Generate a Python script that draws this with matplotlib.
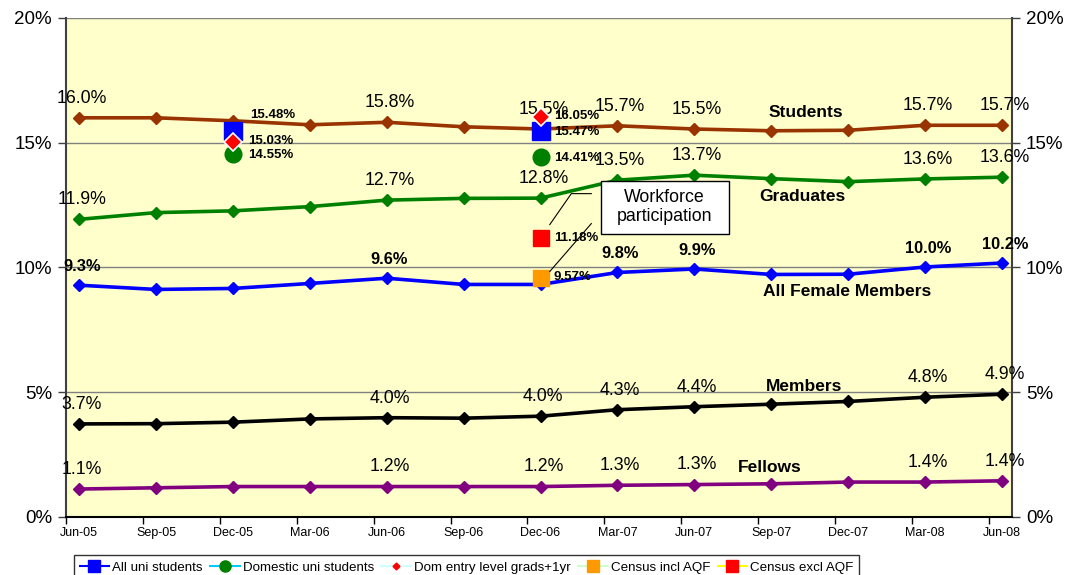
import matplotlib
matplotlib.use("Agg")
import matplotlib.pyplot as plt
from matplotlib.lines import Line2D
from matplotlib.patches import Rectangle
import numpy as np

plt.rcParams['font.family'] = ['Liberation Sans', 'DejaVu Sans']

dates = ["Jun-05", "Sep-05", "Dec-05", "Mar-06", "Jun-06", "Sep-06", "Dec-06",
         "Mar-07", "Jun-07", "Sep-07", "Dec-07", "Mar-08", "Jun-08"]

students = [16.0, 16.0, 15.88, 15.72, 15.82, 15.64, 15.55, 15.68, 15.55, 15.48, 15.5, 15.7, 15.7]
graduates = [11.93, 12.2, 12.27, 12.44, 12.7, 12.77, 12.78, 13.5, 13.7, 13.56, 13.44, 13.55, 13.62]
female = [9.29, 9.12, 9.16, 9.36, 9.57, 9.32, 9.32, 9.8, 9.94, 9.72, 9.73, 10.02, 10.18]
members = [3.73, 3.74, 3.8, 3.93, 3.98, 3.96, 4.04, 4.3, 4.42, 4.52, 4.63, 4.8, 4.92]
fellows = [1.12, 1.17, 1.22, 1.22, 1.22, 1.22, 1.22, 1.27, 1.3, 1.33, 1.4, 1.4, 1.45]

# indices of points carrying value labels
label_idx = [0, 4, 6, 7, 8, 11, 12]
female_label_idx = [0, 4, 7, 8, 11, 12]
students_labels = ["16.0%", "15.8%", "15.5%", "15.7%", "15.5%", "15.7%", "15.7%"]
graduates_labels = ["11.9%", "12.7%", "12.8%", "13.5%", "13.7%", "13.6%", "13.6%"]
female_labels = ["9.3%", "9.6%", "9.8%", "9.9%", "10.0%", "10.2%"]
members_labels = ["3.7%", "4.0%", "4.0%", "4.3%", "4.4%", "4.8%", "4.9%"]
fellows_labels = ["1.1%", "1.2%", "1.2%", "1.3%", "1.3%", "1.4%", "1.4%"]

# single-point comparison series (index into dates, value)
all_uni_idx = [2, 6]
all_uni = [15.48, 15.47]
domestic_idx = [2, 6]
domestic = [14.55, 14.41]
dom_entry_idx = [2, 6]
dom_entry = [15.03, 16.05]
census_incl_idx = [6]
census_incl = [9.57]
census_excl_idx = [6]
census_excl = [11.18]

fig = plt.figure(figsize=(10.68, 5.75), dpi=100)
ax = fig.add_axes([0.0618, 0.1009, 0.8858, 0.8678])
ax.set_facecolor('#FFFFCC')

x = np.arange(len(dates))
ax.set_xlim(-0.17, 12.13)
ax.set_ylim(0, 20)

for yv in [5, 10, 15, 20]:
    ax.axhline(yv, color='#808080', lw=1.0, zorder=1)

lw = 2.6
series = [
    (students, '#993300', students_labels, label_idx, 'normal', 12.8),
    (graduates, '#008000', graduates_labels, label_idx, 'normal', 12.8),
    (female, '#0000FF', female_labels, female_label_idx, 'bold', 11.8),
    (members, '#000000', members_labels, label_idx, 'normal', 12.8),
    (fellows, '#800080', fellows_labels, label_idx, 'normal', 12.8),
]
for vals, col, labs, idxs, wt, fs in series:
    ax.plot(x, vals, color=col, lw=lw, marker='D', markersize=6.5, zorder=3)
    for lab, i in zip(labs, idxs):
        ax.annotate(lab, (x[i], vals[i]), xytext=(2, 8), textcoords='offset points',
                    ha='center', va='bottom', fontsize=fs, fontweight=wt, color='black', zorder=5)

# Series name labels
names = [("Students", 9.45, 16.2), ("Graduates", 9.41, 12.84),
         ("All Female Members", 9.98, 9.04), ("Members", 9.43, 5.24), ("Fellows", 8.98, 2.0)]
for nm, nx, ny in names:
    ax.text(nx, ny, nm, ha='center', va='center', fontsize=12.5, fontweight='bold', zorder=5)

# Comparison points
ax.plot([x[i] for i in all_uni_idx], all_uni, ls='none', marker='s', markersize=12.5,
        color='#0000FF', zorder=6)
ax.plot([x[i] for i in domestic_idx], domestic, ls='none', marker='o', markersize=12,
        color='#008000', zorder=6)
ax.plot([x[i] for i in dom_entry_idx], dom_entry, ls='none', marker='D', markersize=9,
        color='#FF0000', markeredgecolor='white', markeredgewidth=1.2, zorder=7)
ax.plot([x[i] for i in census_incl_idx], census_incl, ls='none', marker='s', markersize=12,
        color='#FF9900', zorder=6)
ax.plot([x[i] for i in census_excl_idx], census_excl, ls='none', marker='s', markersize=12,
        color='#FF0000', zorder=6)

small = dict(fontsize=9.5, fontweight='bold', ha='left', va='center', zorder=8)
ax.text(2.22, 16.12, "15.48%", **small)
ax.text(2.2, 15.05, "15.03%", **small)
ax.text(2.2, 14.52, "14.55%", **small)
ax.text(6.17, 16.08, "16.05%", **small)
ax.text(6.17, 15.44, "15.47%", **small)
ax.text(6.17, 14.4, "14.41%", **small)
ax.text(6.17, 11.2, "11.18%", **small)
ax.text(6.17, 9.6, "9.57%", **small)

# Workforce participation callout
ax.add_patch(Rectangle((6.78, 11.36), 1.67, 2.12, facecolor='white', edgecolor='black',
                       lw=1.0, zorder=9))
ax.text(7.615, 12.42, "Workforce\nparticipation", ha='center', va='center', fontsize=12.8,
        linespacing=1.2, zorder=10)
ax.plot([6.66, 6.40, 6.12], [12.96, 12.96, 11.72], color='black', lw=0.8, zorder=9)
ax.plot([6.66, 6.12], [11.76, 9.84], color='black', lw=0.8, zorder=9)

# Axes styling
for s in ['left', 'right']:
    ax.spines[s].set_color('#404040')
    ax.spines[s].set_linewidth(1.5)
ax.spines['bottom'].set_color('black')
ax.spines['bottom'].set_linewidth(1.5)
ax.spines['top'].set_visible(False)

yt = [0, 5, 10, 15, 20]
ytl = ["0%", "5%", "10%", "15%", "20%"]
ax.set_yticks(yt)
ax.set_yticklabels(ytl, fontsize=13.5)
ax.tick_params(axis='y', which='both', left=True, right=True, labelleft=True,
               labelright=True, direction='out', length=6, width=1.0, color='#404040', pad=4)

ax.set_xticks(x - 0.17)
ax.set_xticklabels([])
ax.tick_params(axis='x', which='major', direction='out', length=5, width=1.0)
ax.set_xticks(x, minor=True)
ax.set_xticklabels(dates, minor=True, fontsize=9)
ax.tick_params(axis='x', which='minor', length=0, pad=7)

handles = [
    Line2D([], [], color='#0000FF', lw=1.5, marker='s', markersize=8, markerfacecolor='#0000FF',
           markeredgecolor='#0000FF'),
    Line2D([], [], color='#00CCFF', lw=1.5, marker='o', markersize=8, markerfacecolor='#008000',
           markeredgecolor='#008000'),
    Line2D([], [], color='#CCFFFF', lw=1.5, marker='D', markersize=3.5, markerfacecolor='#FF0000',
           markeredgecolor='#FF0000'),
    Line2D([], [], color='#CCFFCC', lw=1.5, marker='s', markersize=8, markerfacecolor='#FF9900',
           markeredgecolor='#FF9900'),
    Line2D([], [], color='#FFFF00', lw=1.5, marker='s', markersize=8, markerfacecolor='#FF0000',
           markeredgecolor='#FF0000'),
]
labels = ["All uni students", "Domestic uni students", "Dom entry level grads+1yr",
          "Census incl AQF", "Census excl AQF"]
leg = fig.legend(handles, labels, loc='upper left', bbox_to_anchor=(0.069, 0.034),
                 bbox_transform=fig.transFigure, ncol=5, fontsize=9.6, frameon=True,
                 fancybox=False, edgecolor='black', handlelength=2.2, handletextpad=0.25,
                 columnspacing=0.55, borderpad=0.45, borderaxespad=0)
leg.get_frame().set_linewidth(1.0)

fig.savefig("out.png", dpi=100)
